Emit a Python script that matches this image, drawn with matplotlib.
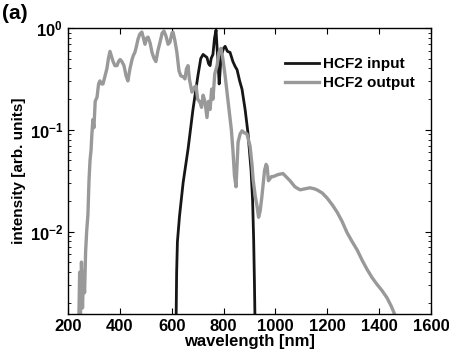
import matplotlib
matplotlib.use('Agg')
import numpy as np
import matplotlib.pyplot as plt
from matplotlib.ticker import LogLocator, NullFormatter

plt.rcParams['font.family'] = ['Liberation Sans', 'DejaVu Sans']
plt.rcParams['font.weight'] = 'bold'
plt.rcParams['mathtext.fontset'] = 'custom'
plt.rcParams['mathtext.rm'] = 'Liberation Sans:bold'
plt.rcParams['mathtext.bf'] = 'Liberation Sans:bold'
plt.rcParams['mathtext.default'] = 'rm'

# HCF2 input spectrum (wavelength nm, log10 intensity)
wl_in = [617, 619, 622, 630, 644, 663, 682, 701, 712, 721, 736, 742, 748, 752,
         759, 765, 771, 775, 779, 783, 786, 790, 794, 800, 806, 815, 825, 836,
         845, 852, 862, 871, 883, 894, 906, 912, 916, 919, 921]
lg_in = [-2.85, -2.4, -2.1, -1.85, -1.52, -1.19, -0.80, -0.47, -0.30, -0.26,
         -0.29, -0.35, -0.37, -0.30, -0.26, -0.10, -0.02, -0.20, -0.35, -0.55,
         -0.45, -0.28, -0.25, -0.20, -0.18, -0.23, -0.24, -0.33, -0.38, -0.41,
         -0.52, -0.60, -0.80, -1.03, -1.40, -1.70, -2.08, -2.5, -2.85]

# HCF2 output spectrum
wl_out = [242, 245, 248, 252, 256, 260, 264, 268, 272, 277, 281, 285, 289, 292,
          296, 300, 305, 312, 318, 323, 330, 335, 342, 350, 356, 362, 368, 374,
          381, 389, 395, 401, 408, 416, 424, 431, 439, 447, 452, 458, 464, 470,
          477, 485, 491, 497, 503, 509, 517, 524, 532, 539, 547, 555, 563, 570,
          578, 586, 593, 601, 605, 612, 620, 628, 635, 645, 651, 657, 663, 668,
          678, 688, 694, 700, 709, 715, 721, 728, 736, 742, 748, 754, 759, 766,
          775, 782, 790, 797, 806, 815, 825, 830, 836, 842, 848, 852, 856, 864,
          871, 880, 890, 902, 910, 914, 922, 929, 935, 941, 948, 952, 958, 964,
          968, 973, 979, 985, 991, 1000, 1010, 1029, 1056, 1075, 1095, 1114,
          1133, 1150, 1160, 1180, 1199, 1220, 1238, 1257, 1276, 1296, 1315,
          1334, 1353, 1372, 1392, 1411, 1430, 1446, 1461, 1466]
lg_out = [-2.85, -2.4, -2.85, -2.3, -2.75, -2.4, -2.6, -2.2, -2.0, -1.83, -1.5,
          -1.3, -1.2, -1.05, -0.90, -0.98, -0.72, -0.68, -0.55, -0.52, -0.55,
          -0.55, -0.48, -0.40, -0.30, -0.23, -0.28, -0.33, -0.37, -0.37, -0.33,
          -0.31, -0.33, -0.37, -0.47, -0.52, -0.40, -0.31, -0.27, -0.24, -0.18,
          -0.11, -0.06, -0.04, -0.10, -0.16, -0.10, -0.09, -0.15, -0.24, -0.30,
          -0.33, -0.22, -0.14, -0.05, -0.03, -0.08, -0.16, -0.14, -0.05, -0.04,
          -0.12, -0.24, -0.42, -0.47, -0.48, -0.50, -0.40, -0.37, -0.50, -0.63,
          -0.58, -0.57, -0.70, -0.73, -0.78, -0.66, -0.72, -0.88, -0.72, -0.80,
          -0.60, -0.70, -0.45, -0.37, -0.24, -0.20, -0.30, -0.47, -0.67, -0.90,
          -1.00, -1.20, -1.45, -1.56, -1.35, -1.12, -1.04, -1.01, -1.03, -1.04,
          -1.16, -1.35, -1.49, -1.65, -1.75, -1.86, -1.80, -1.65, -1.55, -1.40,
          -1.34, -1.36, -1.50, -1.48, -1.46, -1.46, -1.45, -1.44, -1.43, -1.50,
          -1.56, -1.59, -1.58, -1.57, -1.58, -1.59, -1.62, -1.67, -1.74, -1.81,
          -1.90, -2.01, -2.10, -2.18, -2.28, -2.37, -2.45, -2.52, -2.58, -2.65,
          -2.73, -2.82, -2.9]

fig = plt.figure(figsize=(4.49, 3.52), dpi=100)
ax = fig.add_axes([0.1514, 0.108, 0.8086, 0.8125])

ax.semilogy(wl_in, 10 ** np.array(lg_in), color='#161616', lw=2.0, label='HCF2 input')
ax.semilogy(wl_out, 10 ** np.array(lg_out), color='#999999', lw=2.4, label='HCF2 output')

ax.set_xlim(200, 1600)
ax.set_ylim(1.55e-3, 1.0)
ax.set_xticks(range(200, 1601, 200))
ax.yaxis.set_major_locator(LogLocator(base=10, numticks=10))
ax.yaxis.set_minor_locator(LogLocator(base=10, subs=np.arange(2, 10), numticks=10))
ax.yaxis.set_minor_formatter(NullFormatter())
ax.tick_params(which='both', direction='in', top=True, right=True, labelsize=12)
ax.tick_params(which='major', length=4)
ax.tick_params(which='minor', length=2)
for s in ax.spines.values():
    s.set_linewidth(1.0)

ax.set_xlabel('wavelength [nm]', fontsize=12, fontweight='bold', labelpad=0)
ax.set_ylabel('intensity [arb. units]', fontsize=11, fontweight='bold')
ax.yaxis.set_label_coords(-0.115, 0.5)

ax.legend(loc='upper left', bbox_to_anchor=(0.56, 0.945), frameon=False,
          handlelength=2.2, handletextpad=0.3, labelspacing=0.3,
          prop={'size': 11, 'weight': 'bold'})

fig.text(0.004, 0.988, '(a)', fontsize=15, fontweight='bold', va='top')

fig.savefig('out.png', dpi=100)
